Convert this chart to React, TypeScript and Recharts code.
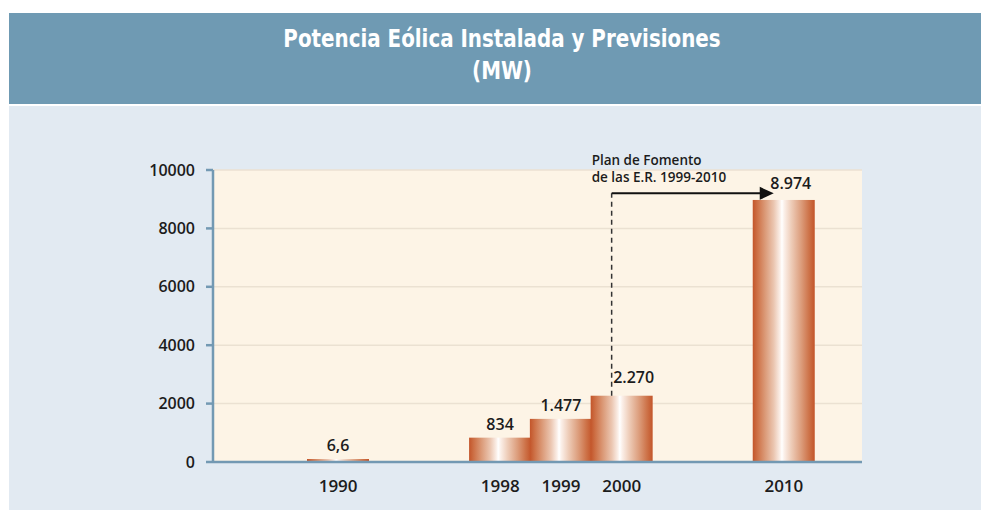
import { Bar, BarChart, CartesianGrid, LabelList, ReferenceLine, XAxis, YAxis } from 'recharts'

const years = ['1990', '1998', '1999', '2000', '2010']
const installedMW = [6.6, 834, 1477, 2270, 8974]
const valueLabels = ['6,6', '834', '1.477', '2.270', '8.974']
// empty slots placed before each year so the bars sit like the original
const gapSlots = [0, 7, 2, 2, 7]
const yTicks = [0, 2000, 4000, 6000, 8000, 10000]

const planText = ['Plan de Fomento', 'de las E.R. 1999-2010']
const planFrom = '2000'
const planTo = '2010'
const planLevel = 9200

const font = '"Open Sans", "DejaVu Sans", sans-serif'
const axisBlue = '#7399b3'
const ink = '#1c1c1c'
const BAR_W = 62

type Row = { key: string; mw: number | null; label: string }

const rows: Row[] = []
years.forEach((y, i) => {
  for (let g = 0; g < gapSlots[i]; g++) rows.push({ key: `gap-${i}-${g}`, mw: null, label: '' })
  rows.push({ key: y, mw: installedMW[i], label: valueLabels[i] })
})

// labels on the annotated bars are pushed right of the dashed line
const labelNudge: Record<string, [number, number]> = {
  '2000': [12, -5],
  '2010': [7, -3],
}

function ValueLabel(props: any) {
  const { x, y, width, value } = props
  const row = rows.find((r) => r.key === value)
  if (!row || row.mw == null) return null
  const [dx, dy] = labelNudge[row.key] ?? [0, 0]
  return (
    <text
      x={x + width / 2 + dx}
      y={y - 8 + dy}
      textAnchor="middle"
      fill={ink}
      fontFamily={font}
      fontWeight={600}
      fontSize={16}
    >
      {row.label}
    </text>
  )
}

// the slots are narrow, so the bar is widened around its slot centre
function WideBar(props: any) {
  const { x, y, width, height } = props
  if (!height) return null
  return <rect x={x + width / 2 - BAR_W / 2} y={y} width={BAR_W} height={height} fill="url(#barGrad)" />
}

function PlanArrow(props: any) {
  const { x1, y1, x2, y2 } = props
  return (
    <g>
      <line x1={x1} y1={y1} x2={x2 - 12} y2={y2} stroke="#111" strokeWidth={2} />
      <polygon points={`${x2},${y2} ${x2 - 14},${y2 - 6.5} ${x2 - 14},${y2 + 6.5}`} fill="#111" />
      {planText.map((t, i) => (
        <text
          key={t}
          x={x1 - 20}
          y={y1 - 28 + i * 17}
          fill={ink}
          fontFamily={font}
          fontWeight={600}
          fontSize={13.5}
        >
          {t}
        </text>
      ))}
    </g>
  )
}

export default function App() {
  return (
    <div style={{ position: 'absolute', left: 0, top: 0, width: 981, height: 510, background: '#fff', overflow: 'hidden' }}>
      <div style={{ position: 'absolute', left: 9, top: 13, width: 972, height: 91, background: '#6f9ab3' }} />
      <div
        style={{
          position: 'absolute',
          left: 23,
          top: 23,
          width: 958,
          textAlign: 'center',
          color: '#fff',
          fontFamily: '"DejaVu Sans Condensed", "Open Sans", sans-serif',
          fontWeight: 700,
          fontSize: 24,
          lineHeight: '32px',
          transform: 'scaleX(0.92)',
        }}
      >
        Potencia Eólica Instalada y Previsiones
        <br />
        (MW)
      </div>
      <div style={{ position: 'absolute', left: 9, top: 106, width: 972, height: 404, background: '#e2eaf2' }} />
      <div style={{ position: 'absolute', left: 0, top: 0 }}>
        <BarChart
          width={981}
          height={510}
          data={rows}
          margin={{ top: 170, right: 119, bottom: 18, left: 153 }}
          barCategoryGap={0}
        >
          <defs>
            <linearGradient id="barGrad" x1="0" y1="0" x2="1" y2="0">
              <stop offset="0" stopColor="#c3552a" />
              <stop offset="0.08" stopColor="#ce7248" />
              <stop offset="0.2" stopColor="#db9a78" />
              <stop offset="0.34" stopColor="#ebc6b1" />
              <stop offset="0.44" stopColor="#fbefe8" />
              <stop offset="0.47" stopColor="#ffffff" />
              <stop offset="0.51" stopColor="#fbefe8" />
              <stop offset="0.62" stopColor="#eecdb9" />
              <stop offset="0.78" stopColor="#dc9d7c" />
              <stop offset="0.91" stopColor="#cd7248" />
              <stop offset="1" stopColor="#c3552a" />
            </linearGradient>
          </defs>
          <CartesianGrid vertical={false} stroke="#ebe1d2" strokeWidth={1.5} fill="#fdf4e6" />
          <XAxis
            dataKey="key"
            height={30}
            padding={{ left: 115, right: 68 }}
            interval={0}
            tickLine={false}
            tickSize={6}
            tickMargin={12}
            axisLine={{ stroke: axisBlue, strokeWidth: 2.5 }}
            tickFormatter={(v: string) => (v.startsWith('gap') ? '' : v)}
            tick={{ fill: ink, fontSize: 17, fontFamily: font, fontWeight: 600 }}
          />
          <YAxis
            width={60}
            domain={[0, 10000]}
            ticks={yTicks}
            interval={0}
            tickSize={7}
            tickMargin={11}
            axisLine={{ stroke: axisBlue, strokeWidth: 2.5 }}
            tickLine={{ stroke: axisBlue, strokeWidth: 2.5 }}
            tick={{ fill: ink, fontSize: 16, fontFamily: font, fontWeight: 600 }}
          />
          <Bar
            dataKey="mw"
            fill="url(#barGrad)"
            shape={WideBar}
            minPointSize={(v: any) => (v != null && v > 0 ? 3 : 0)}
            isAnimationActive={false}
          >
            <LabelList dataKey="key" content={ValueLabel} />
          </Bar>
          <ReferenceLine
            segment={[
              { x: planFrom, y: installedMW[years.indexOf(planFrom)] },
              { x: planFrom, y: planLevel },
            ]}
            position="start"
            stroke="#333"
            strokeWidth={1.5}
            strokeDasharray="5 4"
          />
          <ReferenceLine
            segment={[
              { x: planFrom, y: planLevel },
              { x: planTo, y: planLevel },
            ]}
            position="start"
            shape={PlanArrow}
          />
        </BarChart>
      </div>
    </div>
  )
}
